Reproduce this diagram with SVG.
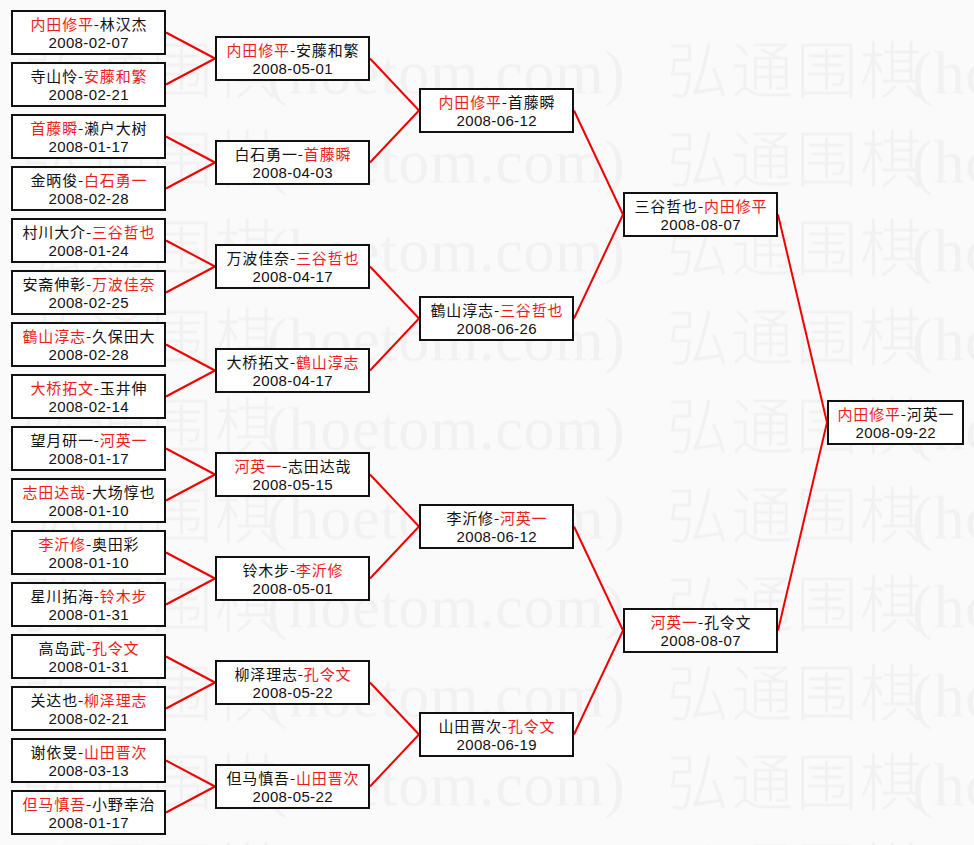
<svg xmlns="http://www.w3.org/2000/svg" width="974" height="845" viewBox="0 0 974 845">
<style>
.bg{fill:#fafafa}
.box{fill:#ffffff;stroke:#111;stroke-width:2}
.n{font-family:"Noto Sans CJK SC","Liberation Sans",sans-serif;font-size:15px;fill:#111;text-anchor:middle}
.d{font-family:"Liberation Sans",sans-serif;font-size:15px;fill:#111;text-anchor:middle}
.r{fill:#ee1c1c}
.wm{font-family:"Liberation Serif","Noto Sans CJK SC",serif;font-size:62px;font-weight:300;fill:#f1f1f1}
#links line{stroke:#ee0000;stroke-width:2}
</style>
<defs>
<pattern id="wmp" patternUnits="userSpaceOnUse" x="22" y="25.5" width="645" height="89">
<text class="wm" x="0" y="68" textLength="255" lengthAdjust="spacing">弘通围棋</text>
<text class="wm" x="245" y="68" textLength="358" lengthAdjust="spacing">(hoetom.com)</text>
</pattern>
</defs>
<rect class="bg" x="0" y="0" width="974" height="845"/>
<rect x="0" y="25.5" width="974" height="819.5" fill="url(#wmp)"/>

<g id="links">
<line x1="166" y1="32.5" x2="215" y2="58.5"/>
<line x1="166" y1="84.5" x2="215" y2="58.5"/>
<line x1="166" y1="136.5" x2="215" y2="162.5"/>
<line x1="166" y1="188.5" x2="215" y2="162.5"/>
<line x1="166" y1="240.5" x2="215" y2="266.5"/>
<line x1="166" y1="292.5" x2="215" y2="266.5"/>
<line x1="166" y1="344.5" x2="215" y2="370.5"/>
<line x1="166" y1="396.5" x2="215" y2="370.5"/>
<line x1="166" y1="448.5" x2="215" y2="474.5"/>
<line x1="166" y1="500.5" x2="215" y2="474.5"/>
<line x1="166" y1="552.5" x2="215" y2="578.5"/>
<line x1="166" y1="604.5" x2="215" y2="578.5"/>
<line x1="166" y1="656.5" x2="215" y2="682.5"/>
<line x1="166" y1="708.5" x2="215" y2="682.5"/>
<line x1="166" y1="760.5" x2="215" y2="786.5"/>
<line x1="166" y1="812.5" x2="215" y2="786.5"/>
<line x1="370" y1="58.5" x2="419" y2="110.5"/>
<line x1="370" y1="162.5" x2="419" y2="110.5"/>
<line x1="370" y1="266.5" x2="419" y2="318.5"/>
<line x1="370" y1="370.5" x2="419" y2="318.5"/>
<line x1="370" y1="474.5" x2="419" y2="526.5"/>
<line x1="370" y1="578.5" x2="419" y2="526.5"/>
<line x1="370" y1="682.5" x2="419" y2="734.5"/>
<line x1="370" y1="786.5" x2="419" y2="734.5"/>
<line x1="574" y1="110.5" x2="623" y2="214.5"/>
<line x1="574" y1="318.5" x2="623" y2="214.5"/>
<line x1="574" y1="526.5" x2="623" y2="630.5"/>
<line x1="574" y1="734.5" x2="623" y2="630.5"/>
<line x1="778" y1="214.5" x2="827" y2="422.5"/>
<line x1="778" y1="630.5" x2="827" y2="422.5"/>
</g>

<g id="r1-1"><rect class="box" x="12" y="11" width="153" height="43"/><text class="n" x="88.5" y="30" textLength="116" lengthAdjust="spacing"><tspan class="r">内田修平</tspan>-林汉杰</text><text class="d" x="88.5" y="48" textLength="80" lengthAdjust="spacing">2008-02-07</text></g>
<g id="r1-2"><rect class="box" x="12" y="63" width="153" height="43"/><text class="n" x="88.5" y="82" textLength="116" lengthAdjust="spacing">寺山怜-<tspan class="r">安藤和繁</tspan></text><text class="d" x="88.5" y="100" textLength="80" lengthAdjust="spacing">2008-02-21</text></g>
<g id="r1-3"><rect class="box" x="12" y="115" width="153" height="43"/><text class="n" x="88.5" y="134" textLength="116" lengthAdjust="spacing"><tspan class="r">首藤瞬</tspan>-濑户大树</text><text class="d" x="88.5" y="152" textLength="80" lengthAdjust="spacing">2008-01-17</text></g>
<g id="r1-4"><rect class="box" x="12" y="167" width="153" height="43"/><text class="n" x="88.5" y="186" textLength="116" lengthAdjust="spacing">金昞俊-<tspan class="r">白石勇一</tspan></text><text class="d" x="88.5" y="204" textLength="80" lengthAdjust="spacing">2008-02-28</text></g>
<g id="r1-5"><rect class="box" x="12" y="219" width="153" height="43"/><text class="n" x="88.5" y="238" textLength="132" lengthAdjust="spacing">村川大介-<tspan class="r">三谷哲也</tspan></text><text class="d" x="88.5" y="256" textLength="80" lengthAdjust="spacing">2008-01-24</text></g>
<g id="r1-6"><rect class="box" x="12" y="271" width="153" height="43"/><text class="n" x="88.5" y="290" textLength="132" lengthAdjust="spacing">安斋伸彰-<tspan class="r">万波佳奈</tspan></text><text class="d" x="88.5" y="308" textLength="80" lengthAdjust="spacing">2008-02-25</text></g>
<g id="r1-7"><rect class="box" x="12" y="323" width="153" height="43"/><text class="n" x="88.5" y="342" textLength="132" lengthAdjust="spacing"><tspan class="r">鶴山淳志</tspan>-久保田大</text><text class="d" x="88.5" y="360" textLength="80" lengthAdjust="spacing">2008-02-28</text></g>
<g id="r1-8"><rect class="box" x="12" y="375" width="153" height="43"/><text class="n" x="88.5" y="394" textLength="116" lengthAdjust="spacing"><tspan class="r">大桥拓文</tspan>-玉井伸</text><text class="d" x="88.5" y="412" textLength="80" lengthAdjust="spacing">2008-02-14</text></g>
<g id="r1-9"><rect class="box" x="12" y="427" width="153" height="43"/><text class="n" x="88.5" y="446" textLength="116" lengthAdjust="spacing">望月研一-<tspan class="r">河英一</tspan></text><text class="d" x="88.5" y="464" textLength="80" lengthAdjust="spacing">2008-01-17</text></g>
<g id="r1-10"><rect class="box" x="12" y="479" width="153" height="43"/><text class="n" x="88.5" y="498" textLength="132" lengthAdjust="spacing"><tspan class="r">志田达哉</tspan>-大场惇也</text><text class="d" x="88.5" y="516" textLength="80" lengthAdjust="spacing">2008-01-10</text></g>
<g id="r1-11"><rect class="box" x="12" y="531" width="153" height="43"/><text class="n" x="88.5" y="550" textLength="100" lengthAdjust="spacing"><tspan class="r">李沂修</tspan>-奥田彩</text><text class="d" x="88.5" y="568" textLength="80" lengthAdjust="spacing">2008-01-10</text></g>
<g id="r1-12"><rect class="box" x="12" y="583" width="153" height="43"/><text class="n" x="88.5" y="602" textLength="116" lengthAdjust="spacing">星川拓海-<tspan class="r">铃木步</tspan></text><text class="d" x="88.5" y="620" textLength="80" lengthAdjust="spacing">2008-01-31</text></g>
<g id="r1-13"><rect class="box" x="12" y="635" width="153" height="43"/><text class="n" x="88.5" y="654" textLength="100" lengthAdjust="spacing">高岛武-<tspan class="r">孔令文</tspan></text><text class="d" x="88.5" y="672" textLength="80" lengthAdjust="spacing">2008-01-31</text></g>
<g id="r1-14"><rect class="box" x="12" y="687" width="153" height="43"/><text class="n" x="88.5" y="706" textLength="116" lengthAdjust="spacing">关达也-<tspan class="r">柳泽理志</tspan></text><text class="d" x="88.5" y="724" textLength="80" lengthAdjust="spacing">2008-02-21</text></g>
<g id="r1-15"><rect class="box" x="12" y="739" width="153" height="43"/><text class="n" x="88.5" y="758" textLength="116" lengthAdjust="spacing">谢依旻-<tspan class="r">山田晋次</tspan></text><text class="d" x="88.5" y="776" textLength="80" lengthAdjust="spacing">2008-03-13</text></g>
<g id="r1-16"><rect class="box" x="12" y="791" width="153" height="43"/><text class="n" x="88.5" y="810" textLength="132" lengthAdjust="spacing"><tspan class="r">但马慎吾</tspan>-小野幸治</text><text class="d" x="88.5" y="828" textLength="80" lengthAdjust="spacing">2008-01-17</text></g>

<g id="r2-1"><rect class="box" x="216" y="37" width="153" height="43"/><text class="n" x="292.5" y="56" textLength="132" lengthAdjust="spacing"><tspan class="r">内田修平</tspan>-安藤和繁</text><text class="d" x="292.5" y="74" textLength="80" lengthAdjust="spacing">2008-05-01</text></g>
<g id="r2-2"><rect class="box" x="216" y="141" width="153" height="43"/><text class="n" x="292.5" y="160" textLength="116" lengthAdjust="spacing">白石勇一-<tspan class="r">首藤瞬</tspan></text><text class="d" x="292.5" y="178" textLength="80" lengthAdjust="spacing">2008-04-03</text></g>
<g id="r2-3"><rect class="box" x="216" y="245" width="153" height="43"/><text class="n" x="292.5" y="264" textLength="132" lengthAdjust="spacing">万波佳奈-<tspan class="r">三谷哲也</tspan></text><text class="d" x="292.5" y="282" textLength="80" lengthAdjust="spacing">2008-04-17</text></g>
<g id="r2-4"><rect class="box" x="216" y="349" width="153" height="43"/><text class="n" x="292.5" y="368" textLength="132" lengthAdjust="spacing">大桥拓文-<tspan class="r">鶴山淳志</tspan></text><text class="d" x="292.5" y="386" textLength="80" lengthAdjust="spacing">2008-04-17</text></g>
<g id="r2-5"><rect class="box" x="216" y="453" width="153" height="43"/><text class="n" x="292.5" y="472" textLength="116" lengthAdjust="spacing"><tspan class="r">河英一</tspan>-志田达哉</text><text class="d" x="292.5" y="490" textLength="80" lengthAdjust="spacing">2008-05-15</text></g>
<g id="r2-6"><rect class="box" x="216" y="557" width="153" height="43"/><text class="n" x="292.5" y="576" textLength="100" lengthAdjust="spacing">铃木步-<tspan class="r">李沂修</tspan></text><text class="d" x="292.5" y="594" textLength="80" lengthAdjust="spacing">2008-05-01</text></g>
<g id="r2-7"><rect class="box" x="216" y="661" width="153" height="43"/><text class="n" x="292.5" y="680" textLength="116" lengthAdjust="spacing">柳泽理志-<tspan class="r">孔令文</tspan></text><text class="d" x="292.5" y="698" textLength="80" lengthAdjust="spacing">2008-05-22</text></g>
<g id="r2-8"><rect class="box" x="216" y="765" width="153" height="43"/><text class="n" x="292.5" y="784" textLength="132" lengthAdjust="spacing">但马慎吾-<tspan class="r">山田晋次</tspan></text><text class="d" x="292.5" y="802" textLength="80" lengthAdjust="spacing">2008-05-22</text></g>

<g id="r3-1"><rect class="box" x="420" y="89" width="153" height="43"/><text class="n" x="496.5" y="108" textLength="116" lengthAdjust="spacing"><tspan class="r">内田修平</tspan>-首藤瞬</text><text class="d" x="496.5" y="126" textLength="80" lengthAdjust="spacing">2008-06-12</text></g>
<g id="r3-2"><rect class="box" x="420" y="297" width="153" height="43"/><text class="n" x="496.5" y="316" textLength="132" lengthAdjust="spacing">鶴山淳志-<tspan class="r">三谷哲也</tspan></text><text class="d" x="496.5" y="334" textLength="80" lengthAdjust="spacing">2008-06-26</text></g>
<g id="r3-3"><rect class="box" x="420" y="505" width="153" height="43"/><text class="n" x="496.5" y="524" textLength="100" lengthAdjust="spacing">李沂修-<tspan class="r">河英一</tspan></text><text class="d" x="496.5" y="542" textLength="80" lengthAdjust="spacing">2008-06-12</text></g>
<g id="r3-4"><rect class="box" x="420" y="713" width="153" height="43"/><text class="n" x="496.5" y="732" textLength="116" lengthAdjust="spacing">山田晋次-<tspan class="r">孔令文</tspan></text><text class="d" x="496.5" y="750" textLength="80" lengthAdjust="spacing">2008-06-19</text></g>

<g id="r4-1"><rect class="box" x="624" y="193" width="153" height="43"/><text class="n" x="700.5" y="212" textLength="132" lengthAdjust="spacing">三谷哲也-<tspan class="r">内田修平</tspan></text><text class="d" x="700.5" y="230" textLength="80" lengthAdjust="spacing">2008-08-07</text></g>
<g id="r4-2"><rect class="box" x="624" y="609" width="153" height="43"/><text class="n" x="700.5" y="628" textLength="100" lengthAdjust="spacing"><tspan class="r">河英一</tspan>-孔令文</text><text class="d" x="700.5" y="646" textLength="80" lengthAdjust="spacing">2008-08-07</text></g>

<g id="final"><rect class="box" x="828" y="401" width="135" height="43"/><text class="n" x="895.5" y="420" textLength="116" lengthAdjust="spacing"><tspan class="r">内田修平</tspan>-河英一</text><text class="d" x="895.5" y="438" textLength="80" lengthAdjust="spacing">2008-09-22</text></g>
</svg>
